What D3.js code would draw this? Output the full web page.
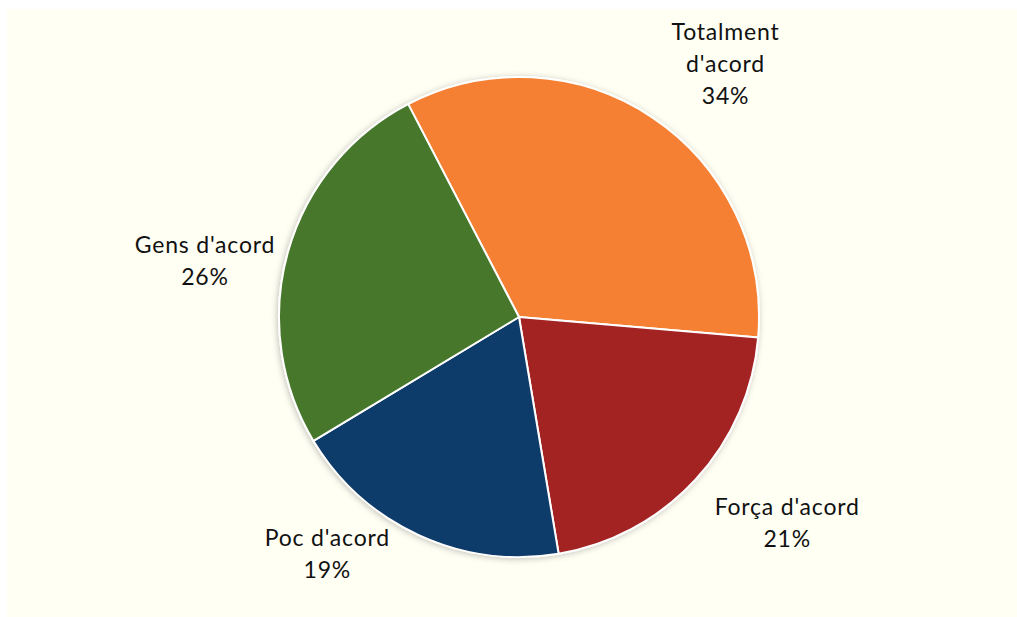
<!DOCTYPE html>
<html lang="en">
<head>
<meta charset="utf-8">
<title>Pie</title>
<script src="https://cdn.jsdelivr.net/npm/d3@7"></script>
<style>
  body { margin: 0; background: #ffffff; }
  svg { display: block; }
  text { font-family: Lato, "Open Sans", sans-serif; font-size: 23px; letter-spacing: 0.8px; fill: #111; }
</style>
</head>
<body>
<script>
var categories = ["Totalment d'acord", "Força d'acord", "Poc d'acord", "Gens d'acord"];
var values = [34, 21, 19, 26];
var colors = ["#f57f30", "#a32124", "#0f3a6a", "#46772c"];

// label lines (Excel wraps the long one)
var labelLines = [["Totalment", "d'acord"], ["Força d'acord"], ["Poc d'acord"], ["Gens d'acord"]];
var nudges = [[29, 13], [33, -11], [-58, -54], [-6, 31]];

var width = 1017, height = 617;
var cx = 519, cy = 317, r = 240;

var svg = d3.select("body").append("svg")
    .attr("width", width)
    .attr("height", height);

svg.append("rect")
    .attr("x", 7).attr("y", 9)
    .attr("width", width - 7).attr("height", height - 9)
    .attr("fill", "#fffff4");

var defs = svg.append("defs");
var f = defs.append("filter").attr("id", "shadow")
    .attr("x", "-10%").attr("y", "-10%").attr("width", "120%").attr("height", "120%");
f.append("feDropShadow")
    .attr("dx", -1).attr("dy", 1)
    .attr("stdDeviation", 3)
    .attr("flood-color", "#000")
    .attr("flood-opacity", 0.25);

var data = categories.map(function(c, i) { return { name: c, value: values[i], i: i }; });

var startA = -27.5 * Math.PI / 180;
var pie = d3.pie()
    .sort(null)
    .value(function(d) { return d.value; })
    .startAngle(startA)
    .endAngle(startA + 2 * Math.PI);

var arc = d3.arc().innerRadius(0).outerRadius(r);
var labelArc = d3.arc().innerRadius(320).outerRadius(320);

var g = svg.append("g").attr("transform", "translate(" + cx + "," + cy + ")");

g.append("g").attr("filter", "url(#shadow)")
  .selectAll("path")
  .data(pie(data))
  .enter()
  .append("path")
    .attr("d", arc)
    .attr("fill", function(d) { return colors[d.data.i]; })
    .attr("stroke", "#ffffff")
    .attr("stroke-width", 2)
    .attr("stroke-linejoin", "round");

var labels = g.selectAll("text.lbl")
  .data(pie(data))
  .enter()
  .append("text")
    .attr("class", "lbl")
    .attr("text-anchor", "middle")
    .attr("transform", function(d) {
      var c = labelArc.centroid(d);
      var n = nudges[d.data.i];
      return "translate(" + (c[0] + n[0]) + "," + (c[1] + n[1]) + ")";
    });

labels.each(function(d) {
  var lines = labelLines[d.data.i].concat([d.data.value + "%"]);
  var t = d3.select(this);
  var lh = 32;
  var y0 = -(lines.length - 1) * lh / 2;
  lines.forEach(function(l, k) {
    t.append("tspan")
      .attr("x", 0)
      .attr("y", y0 + k * lh)
      .attr("dy", "0.35em")
      .text(l);
  });
});
</script>
</body>
</html>
